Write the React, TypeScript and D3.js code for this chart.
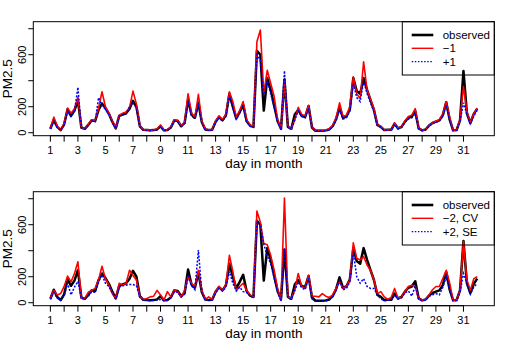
import React from "react";
import * as d3 from "d3";

const chartWidth = 509;
const chartHeight = 350;

// x: day in month, 4 readings per day (every 6 hours), day 1 to day 32
const days = d3.range(1, 32);
const yTicks = [0, 200, 400, 600, 800];
const yTickLabels = [0, 200, 600];

const observed = [
  30, 100, 45, 20, 65, 180, 130, 170, 250, 40, 30, 60, 95, 90, 175, 225,
  190, 145, 85, 33, 130, 140, 150, 185, 245, 200, 50, 22, 20, 18, 20, 25,
  50, 18, 20, 40, 95, 90, 50, 75, 255, 140, 115, 230, 80, 25, 20, 22,
  85, 120, 95, 135, 300, 200, 110, 160, 215, 90, 55, 45, 630, 600, 170, 420,
  330, 210, 90, 30, 410, 45, 30, 140, 175, 130, 120, 205, 40, 15, 15, 15,
  18, 25, 50, 105, 195, 115, 125, 180, 420, 320, 300, 420, 330, 250, 175, 60,
  45, 20, 22, 22, 70, 33, 45, 85, 115, 125, 165, 33, 18, 25, 55, 75,
  85, 95, 135, 235, 100, 18, 20, 95, 475, 150, 75, 145, 185,
];

const minusOne = [
  30, 120, 50, 22, 70, 190, 150, 185, 275, 40, 30, 65, 100, 95, 190, 315,
  200, 150, 90, 35, 135, 150, 160, 195, 320, 220, 55, 22, 22, 20, 22, 28,
  60, 20, 22, 45, 100, 95, 55, 80, 300, 150, 120, 295, 90, 30, 22, 25,
  90, 130, 100, 145, 315, 240, 120, 170, 240, 100, 60, 50, 700, 790, 300, 480,
  380, 280, 100, 35, 395, 50, 30, 100, 195, 140, 130, 210, 45, 18, 18, 18,
  20, 30, 55, 115, 230, 125, 135, 200, 430, 300, 260, 545, 330, 260, 185, 60,
  50, 22, 22, 22, 75, 35, 45, 90, 125, 135, 185, 35, 18, 25, 55, 75,
  90, 100, 145, 240, 120, 20, 20, 100, 355, 165, 80, 145, 190,
];

const plusOne = [
  28, 90, 40, 20, 60, 170, 125, 165, 350, 38, 28, 55, 90, 85, 270, 210,
  180, 140, 80, 30, 125, 135, 145, 200, 230, 190, 45, 20, 18, 16, 18, 22,
  45, 16, 18, 38, 90, 85, 45, 70, 240, 130, 105, 220, 75, 22, 18, 20,
  80, 115, 90, 125, 290, 190, 105, 150, 200, 85, 50, 42, 600, 560, 280, 400,
  300, 200, 85, 28, 477, 40, 28, 95, 170, 125, 115, 190, 38, 14, 14, 14,
  16, 22, 45, 95, 180, 105, 115, 165, 380, 270, 240, 400, 300, 230, 160, 55,
  42, 18, 20, 20, 65, 30, 40, 80, 105, 115, 150, 30, 16, 22, 50, 70,
  80, 90, 125, 215, 95, 16, 18, 85, 230, 140, 70, 125, 175,
];

const minusTwoCV = [
  35, 95, 60, 70, 125, 205, 160, 225, 315, 33, 33, 80, 95, 110, 175, 280,
  185, 135, 70, 33, 150, 135, 150, 250, 210, 175, 45, 25, 33, 45, 50, 95,
  60, 20, 85, 45, 95, 85, 45, 95, 200, 150, 125, 250, 95, 25, 45, 25,
  85, 125, 95, 135, 365, 240, 95, 125, 150, 95, 60, 45, 705, 620, 455, 445,
  365, 250, 110, 20, 805, 45, 33, 95, 225, 125, 110, 212, 50, 50, 45, 70,
  50, 40, 60, 110, 160, 110, 125, 175, 460, 340, 330, 355, 290, 250, 175, 70,
  85, 45, 25, 40, 110, 33, 45, 85, 125, 135, 125, 33, 20, 25, 60, 100,
  125, 125, 185, 250, 150, 20, 20, 95, 470, 175, 95, 185, 200,
];

const plusTwoSE = [
  25, 80, 35, 20, 55, 150, 60, 120, 165, 35, 28, 50, 85, 80, 160, 215,
  150, 125, 75, 28, 120, 130, 135, 140, 140, 130, 40, 20, 18, 16, 18, 20,
  25, 16, 18, 40, 85, 80, 45, 65, 200, 130, 100, 405, 80, 20, 18, 20,
  75, 110, 90, 120, 240, 150, 90, 120, 85, 80, 50, 40, 620, 600, 450, 360,
  300, 190, 80, 10, 420, 35, 28, 95, 160, 115, 100, 190, 30, 12, 12, 12,
  14, 20, 45, 95, 170, 100, 110, 160, 390, 200, 150, 185, 125, 110, 110, 60,
  30, 15, 18, 18, 60, 28, 38, 75, 90, 50, 130, 28, 14, 20, 50, 60,
  70, 60, 120, 200, 95, 14, 16, 80, 225, 150, 65, 120, 150,
];

const times = observed.map((_, i) => 1 + i / 4);

const plotLeft = 33.3;
const plotRight = 494.3;
const plotHeight = 114;
const font = "'Liberation Sans', Arial, Helvetica, sans-serif";

const panels = [
  { top: 21.7, red: minusOne, blue: plusOne, labels: ["observed", "\u22121", "+1"] },
  { top: 191.7, red: minusTwoCV, blue: plusTwoSE, labels: ["observed", "\u22122, CV", "+2, SE"] },
];

const x = d3.scaleLinear().domain([1 - 1.24, 32 + 1.24]).range([plotLeft, plotRight]);

const Panel = ({ top, red, blue, labels }) => {
  const bottom = top + plotHeight;
  const y = d3.scaleLinear().domain([-23, 854]).range([bottom, top]);
  const makeLine = (vals) =>
    d3.line().x((_, i) => x(times[i])).y((v) => y(v))(vals);

  const legX = 402.3;
  const legW = plotRight - legX;
  const legH = 53.3;
  const rows = [
    { stroke: "black", width: 2.6, dash: null },
    { stroke: "red", width: 1.4, dash: null },
    { stroke: "blue", width: 1.4, dash: "1.5 1.6" },
  ];

  return (
    <g>
      {/* series */}
      <path d={makeLine(observed)} fill="none" stroke="black" strokeWidth={2.5} strokeLinejoin="round" />
      <path d={makeLine(red)} fill="none" stroke="red" strokeWidth={1.6} strokeLinejoin="round" />
      <path d={makeLine(blue)} fill="none" stroke="blue" strokeWidth={1.5} strokeDasharray="2 1.6" />

      {/* box */}
      <rect x={plotLeft} y={top} width={plotRight - plotLeft} height={plotHeight} fill="none" stroke="black" strokeWidth={1} />

      {/* y axis */}
      {yTicks.map((t) => (
        <line key={t} x1={plotLeft - 5} x2={plotLeft} y1={y(t)} y2={y(t)} stroke="black" />
      ))}
      {yTickLabels.map((t) => (
        <text key={t} transform={`translate(26, ${y(t)}) rotate(-90)`} textAnchor="middle" fontSize={11} fontFamily={font}>
          {t}
        </text>
      ))}
      <text transform={`translate(12, ${(top + bottom) / 2}) rotate(-90)`} textAnchor="middle" fontSize={13.5} fontFamily={font}>
        PM2.5
      </text>

      {/* x axis */}
      <line x1={x(1)} x2={x(31)} y1={bottom} y2={bottom} stroke="black" />
      {days.map((d) => (
        <line key={d} x1={x(d)} x2={x(d)} y1={bottom} y2={bottom + 6} stroke="black" />
      ))}
      {days.filter((d) => d % 2 === 1).map((d) => (
        <text key={d} x={x(d)} y={bottom + 18} textAnchor="middle" fontSize={11} fontFamily={font}>
          {d}
        </text>
      ))}
      <text x={(plotLeft + plotRight) / 2} y={bottom + 32} textAnchor="middle" fontSize={13.5} fontFamily={font}>
        day in month
      </text>

      {/* legend */}
      <rect x={legX} y={top} width={legW} height={legH} fill="none" stroke="black" strokeWidth={1} />
      {rows.map((r, i) => (
        <g key={i}>
          <line x1={411.7} x2={433.3} y1={top + 13.3 * (i + 1)} y2={top + 13.3 * (i + 1)}
            stroke={r.stroke} strokeWidth={r.width} strokeDasharray={r.dash || undefined} />
          <text x={442.7} y={top + 13.3 * (i + 1) + 4} fontSize={11.5} fontFamily={font}>
            {labels[i]}
          </text>
        </g>
      ))}
    </g>
  );
};

export default function App() {
  return (
    <svg width={chartWidth} height={chartHeight} style={{ position: "absolute", left: 0, top: 0, background: "white" }}>
      {panels.map((p, i) => (
        <Panel key={i} {...p} />
      ))}
    </svg>
  );
}
